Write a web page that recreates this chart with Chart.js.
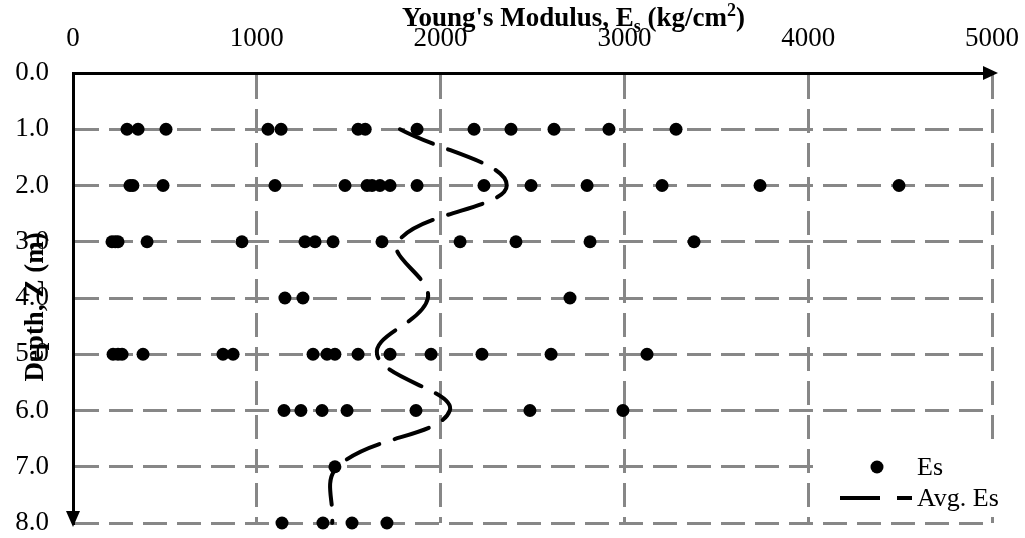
<!DOCTYPE html>
<html>
<head>
<meta charset="utf-8">
<script src="https://cdn.jsdelivr.net/npm/chart.js@4.4.1/dist/chart.umd.min.js"></script>
<style>
  html, body { margin: 0; padding: 0; background: #fff; }
  #wrap { width: 1025px; height: 538px; }
</style>
</head>
<body>
<div id="wrap"><canvas id="esChart" width="1025" height="538"></canvas></div>
<script>
// depth of each row of readings (m)
const depths = [1, 2, 3, 4, 5, 6, 7, 8];

// Young's modulus readings at each depth (kg/cm2)
const esAt1 = [294, 354, 506, 1061, 1132, 1551, 1590, 1872, 2182, 2383, 2617, 2916, 3281];
const esAt2 = [310, 326, 490, 1099, 1480, 1600, 1627, 1670, 1725, 1872, 2236, 2492, 2797, 3205, 3738, 4494];
const esAt3 = [212, 230, 245, 403, 919, 1262, 1317, 1415, 1681, 2106, 2410, 2813, 3379];
const esAt4 = [1153, 1251, 2704];
const esAt5 = [218, 245, 267, 381, 816, 871, 1306, 1382, 1425, 1551, 1725, 1948, 2225, 2601, 3123];
const esAt6 = [1148, 1240, 1355, 1491, 1866, 2486, 2992];
const esAt7 = [1425];
const esAt8 = [1137, 1360, 1518, 1708];

// average curve
const avgEs = [1779, 2360, 1768, 1931, 1654, 2050, 1440, 1410];

const modulusTicks = ['0', '1000', '2000', '3000', '4000', '5000'];
const depthTicks = ['0.0', '1.0', '2.0', '3.0', '4.0', '5.0', '6.0', '7.0', '8.0'];

const esByDepth = [esAt1, esAt2, esAt3, esAt4, esAt5, esAt6, esAt7, esAt8];
const esPoints = [];
esByDepth.forEach((row, i) => {
    row.forEach(v => esPoints.push({ x: v, y: depths[i] }));
});
const avgPoints = avgEs.map((v, i) => ({ x: v, y: depths[i] }));

const serif = '"Liberation Serif", "Times New Roman", serif';
const gridGray = '#878787';

// axis arrows, titles and the in-plot legend
const decorations = {
    id: 'decorations',
    afterDraw(chart) {
        const { ctx, chartArea: a } = chart;
        ctx.save();
        ctx.fillStyle = '#000';

        // arrow heads
        ctx.beginPath();
        ctx.moveTo(a.right + 6, a.top);
        ctx.lineTo(a.right - 9, a.top - 7);
        ctx.lineTo(a.right - 9, a.top + 7);
        ctx.closePath();
        ctx.fill();
        ctx.beginPath();
        ctx.moveTo(a.left, a.bottom + 4);
        ctx.lineTo(a.left - 7, a.bottom - 12);
        ctx.lineTo(a.left + 7, a.bottom - 12);
        ctx.closePath();
        ctx.fill();

        // x title with subscript / superscript
        let x = 402;
        const base = 26;
        ctx.textBaseline = 'alphabetic';
        ctx.textAlign = 'left';
        ctx.font = 'bold 27px ' + serif;
        ctx.fillText("Young's Modulus, E", x, base);
        x += ctx.measureText("Young's Modulus, E").width;
        ctx.font = 'bold 18px ' + serif;
        ctx.fillText('s', x, base + 6);
        x += ctx.measureText('s').width;
        ctx.font = 'bold 27px ' + serif;
        ctx.fillText(' (kg/cm', x, base);
        x += ctx.measureText(' (kg/cm').width;
        ctx.font = 'bold 18px ' + serif;
        ctx.fillText('2', x, base - 10);
        x += ctx.measureText('2').width;
        ctx.font = 'bold 27px ' + serif;
        ctx.fillText(')', x, base);

        // y title
        ctx.save();
        ctx.translate(43, 307);
        ctx.rotate(-Math.PI / 2);
        ctx.textAlign = 'center';
        ctx.font = 'bold 27px ' + serif;
        ctx.fillText('Depth, Z (m)', 0, 0);
        ctx.restore();

        // legend
        ctx.fillStyle = '#fff';
        ctx.fillRect(822, 447, 178, 67);
        ctx.fillStyle = '#000';
        ctx.beginPath();
        ctx.arc(877, 467, 6.5, 0, Math.PI * 2);
        ctx.fill();
        ctx.strokeStyle = '#000';
        ctx.lineWidth = 4;
        ctx.setLineDash([40, 17]);
        ctx.beginPath();
        ctx.moveTo(840, 498);
        ctx.lineTo(912, 498);
        ctx.stroke();
        ctx.setLineDash([]);
        ctx.font = '26px ' + serif;
        ctx.fillText('Es', 917, 475);
        ctx.fillText('Avg. Es', 917, 506);
        ctx.restore();
    }
};

const ctx = document.getElementById('esChart').getContext('2d');
const chart = new Chart(ctx, {
    type: 'scatter',
    data: {
        datasets: [{
            label: 'Es',
            data: esPoints,
            backgroundColor: '#000',
            borderWidth: 0,
            pointRadius: 6.5,
            order: 2,
            clip: false
        }, {
            label: 'Avg. Es',
            data: avgPoints,
            showLine: true,
            borderColor: '#000',
            borderWidth: 4,
            borderDash: [36, 16],
            borderCapStyle: 'round',
            tension: 0.4,
            pointRadius: 0,
            fill: false,
            order: 1,
            clip: false
        }]
    },
    options: {
        responsive: false,
        animation: false,
        devicePixelRatio: 1,
        layout: { padding: { left: 0, top: 0, right: 33, bottom: 15 } },
        plugins: {
            legend: { display: false },
            tooltip: { enabled: false }
        },
        scales: {
            x: {
                type: 'linear',
                position: 'top',
                min: 0,
                max: 5000,
                afterFit: s => {
                    s.height = 73;
                    s.paddingLeft = 0;
                    s.paddingRight = 0;
                },
                afterBuildTicks: s => { s.ticks = modulusTicks.map(t => ({ value: Number(t) })); },
                ticks: {
                    padding: 18,
                    color: '#000',
                    font: { family: serif, size: 27 },
                    callback: (v, i) => modulusTicks[i]
                },
                grid: { color: gridGray, lineWidth: 3, drawTicks: false },
                border: { display: true, color: '#000', width: 3, dash: [24, 10] }
            },
            y: {
                type: 'linear',
                position: 'left',
                reverse: true,
                min: 0,
                max: 8,
                afterFit: s => {
                    s.width = 73;
                    s.paddingTop = 0;
                    s.paddingBottom = 0;
                },
                afterBuildTicks: s => { s.ticks = depthTicks.map(t => ({ value: Number(t) })); },
                ticks: {
                    padding: 24,
                    color: '#000',
                    font: { family: serif, size: 27 },
                    callback: (v, i) => depthTicks[i]
                },
                grid: { color: gridGray, lineWidth: 3, drawTicks: false },
                border: { display: true, color: '#000', width: 3, dash: [24, 10] }
            }
        }
    },
    plugins: [decorations]
});
</script>
</body>
</html>
